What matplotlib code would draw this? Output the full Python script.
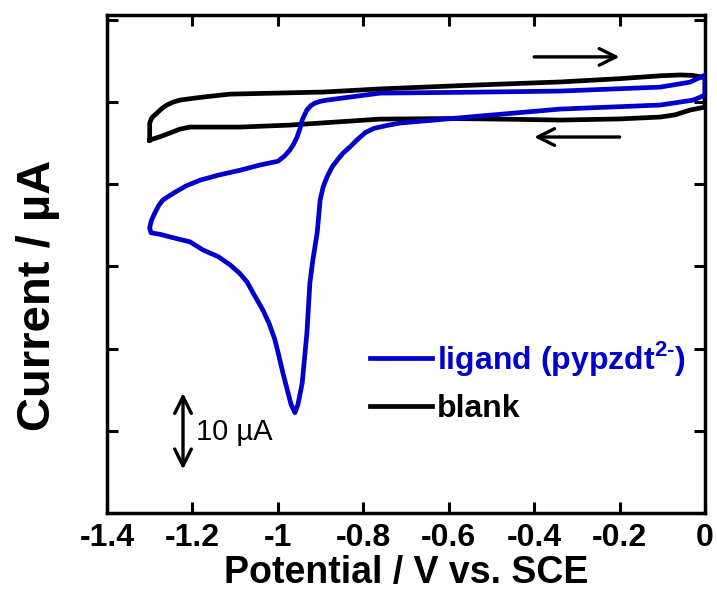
import matplotlib.pyplot as plt
import numpy as np

plt.rcParams['font.family'] = ['Liberation Sans', 'DejaVu Sans']
plt.rcParams['mathtext.fontset'] = 'custom'
plt.rcParams['mathtext.rm'] = 'Liberation Sans:bold'
plt.rcParams['mathtext.bf'] = 'Liberation Sans:bold'

# blank CV (closed loop: -1.3 V -> 0 V upper branch, back along lower branch)
blank_x = [-1.300, -1.300, -1.295, -1.283, -1.272, -1.260, -1.245, -1.229, -1.200, -1.175,
           -1.112, -1.042, -0.894, -0.761, -0.691, -0.550, -0.339, -0.200, -0.105, -0.058,
           -0.030, -0.012, 0.000,
           0.000, -0.035, -0.070, -0.105, -0.200, -0.339, -0.440, -0.597, -0.761, -0.972,
           -1.089, -1.206, -1.230, -1.253, -1.275, -1.300]
blank_y = [-4.62, -2.55, -1.90, -1.34, -0.80, -0.36, 0.00, 0.24, 0.45, 0.61,
           0.97, 1.05, 1.22, 1.60, 1.75, 2.05, 2.45, 2.85, 3.20, 3.30,
           3.25, 3.10, 2.92,
           -0.61, -0.97, -1.55, -1.82, -2.05, -2.19, -2.10, -2.00, -2.07, -2.80,
           -3.04, -3.04, -3.30, -3.77, -4.20, -4.62]

# ligand CV (start at 0 V, cathodic scan with peak, then anodic return)
ligand_x = [0.000, -0.028, -0.105, -0.339, -0.527, -0.714, -0.745, -0.775, -0.795, -0.815,
            -0.830, -0.847, -0.860, -0.873, -0.885, -0.894, -0.901, -0.908, -0.918, -0.925,
            -0.932, -0.943, -0.953, -0.960, -0.969, -0.972, -0.980, -0.988, -0.997, -1.007,
            -1.020, -1.035, -1.055, -1.072, -1.090, -1.112, -1.140, -1.175, -1.206, -1.230,
            -1.253, -1.275, -1.297,
            -1.300, -1.296, -1.288, -1.279, -1.269, -1.245, -1.215, -1.182, -1.140, -1.089,
            -1.042, -1.000, -0.985, -0.972, -0.963, -0.955, -0.948, -0.943, -0.937, -0.932,
            -0.922, -0.913, -0.900, -0.885, -0.761, -0.550, -0.339, -0.105, -0.035, 0.000,
            0.000]
ligand_y = [0.85, 0.24, -0.36, -0.85, -1.70, -2.55, -2.85, -3.20, -3.70, -4.62,
            -5.40, -6.20, -7.00, -7.90, -9.12, -10.34, -11.92, -15.93, -19.20, -22.00,
            -28.10, -34.20, -36.80, -37.80, -36.80, -36.20, -34.60, -33.00, -31.00, -28.90,
            -27.00, -25.30, -23.50, -21.90, -20.80, -19.80, -18.80, -18.00, -17.00, -16.70,
            -16.40, -16.10, -15.90,
            -15.30, -14.40, -13.50, -12.60, -11.90, -11.10, -10.20, -9.50, -8.90, -8.30,
            -7.66, -7.20, -6.60, -5.84, -5.10, -4.26, -3.20, -2.19, -1.50, -0.97,
            -0.40, -0.12, 0.10, 0.24, 1.09, 1.20, 1.34, 1.82, 2.43, 3.28,
            0.85]

xticks = [-1.4, -1.2, -1.0, -0.8, -0.6, -0.4, -0.2, 0.0]
xtick_labels = ['-1.4', '-1.2', '-1', '-0.8', '-0.6', '-0.4', '-0.2', '0']
yticks = [-50, -40, -30, -20, -10, 0, 10]

fig = plt.figure(figsize=(7.17, 5.99), dpi=100)
ax = fig.add_axes([0.1492, 0.1436, 0.8341, 0.8314])

ax.plot(blank_x, blank_y, color='black', lw=3.4, label='blank', zorder=2)
ax.plot(ligand_x, ligand_y, color='#0000cc', lw=3.4,
        label=r'ligand (pypzdt$^{2\text{-}}$)', zorder=3)

ax.set_xlim(-1.4, 0)
ax.set_ylim(-50, 10.6)
ax.set_xticks(xticks)
ax.set_xticklabels(xtick_labels, fontsize=23, fontweight='bold')
ax.set_yticks(yticks)
ax.set_yticklabels([])
ax.tick_params(direction='in', length=8, width=2.2, top=True, right=True, pad=7)
for s in ax.spines.values():
    s.set_linewidth(2.5)

ax.set_xlabel('Potential / V vs. SCE', fontsize=27, fontweight='bold', labelpad=2)
ax.set_ylabel('Current / µA', fontsize=34, fontweight='bold')
ax.yaxis.set_label_coords(-0.079, 0.436)

# scan direction arrows
head = '->,head_length=0.6,head_width=0.3'
ax.annotate('', xy=(-0.2, 5.5), xytext=(-0.4, 5.5),
            arrowprops=dict(arrowstyle=head, lw=2.4, color='black',
                            mutation_scale=20, shrinkA=0, shrinkB=0))
ax.annotate('', xy=(-0.4, -4.25), xytext=(-0.2, -4.25),
            arrowprops=dict(arrowstyle=head, lw=2.4, color='black',
                            mutation_scale=20, shrinkA=0, shrinkB=0))

# 10 uA scale bar
ax.annotate('', xy=(-1.222, -35.4), xytext=(-1.222, -44.7),
            arrowprops=dict(arrowstyle='<->,head_length=0.6,head_width=0.3', lw=2.4,
                            color='black', mutation_scale=20, shrinkA=0, shrinkB=0))
ax.text(-1.192, -40.1, '10 µA', fontsize=21, va='center', ha='left')

handles, labels = ax.get_legend_handles_labels()
leg = ax.legend(handles[::-1], labels[::-1], loc='upper left', bbox_to_anchor=(0.44, 0.35),
                frameon=False, handlelength=1.95, handletextpad=0.15,
                labelspacing=0.52, borderpad=0, borderaxespad=0,
                prop={'weight': 'bold', 'size': 23})
for t, h in zip(leg.get_texts(), handles[::-1]):
    t.set_color(h.get_color())

fig.savefig('out.png', dpi=100)
